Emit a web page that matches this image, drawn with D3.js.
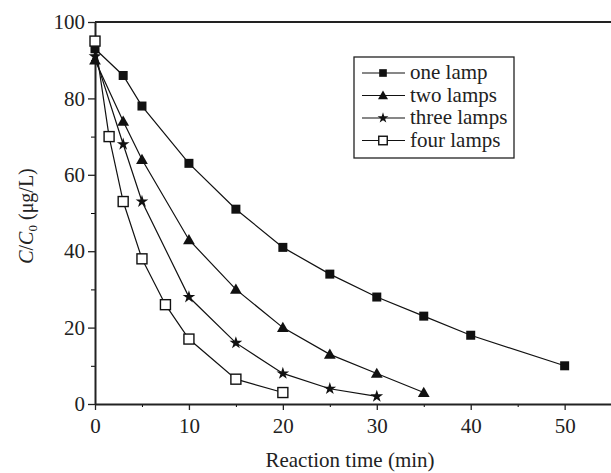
<!DOCTYPE html>
<html>
<head>
<meta charset="utf-8">
<script src="https://cdn.jsdelivr.net/npm/d3@7"></script>
<style>
  body { margin: 0; background: #fff; }
  svg text { font-family: "Liberation Serif", "Times New Roman", serif !important; fill: #222; }
</style>
</head>
<body>
<svg id="chart" width="611" height="473"></svg>
<script>
// values
const timeOne = [0, 3, 5, 10, 15, 20, 25, 30, 35, 40, 50];
const oneLamp = [93, 86, 78, 63, 51, 41, 34, 28, 23, 18, 10];
const timeTwo = [0, 3, 5, 10, 15, 20, 25, 30, 35];
const twoLamps = [90, 74, 64, 43, 30, 20, 13, 8, 3];
const timeThree = [0, 3, 5, 10, 15, 20, 25, 30];
const threeLamps = [91, 68, 53, 28, 16, 8, 4, 2];
const timeFour = [0, 1.5, 3, 5, 7.5, 10, 15, 20];
const fourLamps = [95, 70, 53, 38, 26, 17, 6.5, 3];
const seriesNames = ["one lamp", "two lamps", "three lamps", "four lamps"];
const xTicks = [0, 10, 20, 30, 40, 50];
const yTicks = [0, 20, 40, 60, 80, 100];

const series = [
  { name: seriesNames[0], sym: "sqFill", pts: timeOne.map((t, i) => [t, oneLamp[i]]) },
  { name: seriesNames[1], sym: "tri", pts: timeTwo.map((t, i) => [t, twoLamps[i]]) },
  { name: seriesNames[2], sym: "star", pts: timeThree.map((t, i) => [t, threeLamps[i]]) },
  { name: seriesNames[3], sym: "sqOpen", pts: timeFour.map((t, i) => [t, fourLamps[i]]) }
];

const margin = { top: 22, left: 95 },
    width = 526, height = 382;

const svg = d3.select("#chart")
    .append("g")
    .attr("transform", `translate(${margin.left},${margin.top})`);

const x = d3.scaleLinear().domain([0, 56]).range([0, width]);
const y = d3.scaleLinear().domain([0, 100]).range([height, 0]);

// minor ticks
svg.append("g")
    .attr("transform", `translate(0,${height})`)
    .call(d3.axisBottom(x).tickValues([5, 15, 25, 35, 45, 55]).tickSize(3).tickFormat(""))
    .call(g => g.select(".domain").remove());
svg.append("g")
    .call(d3.axisLeft(y).tickValues([10, 30, 50, 70, 90]).tickSize(4).tickFormat(""))
    .call(g => g.select(".domain").remove());

const xAxis = svg.append("g")
    .attr("transform", `translate(0,${height})`)
    .call(d3.axisBottom(x).tickValues(xTicks).tickSize(6).tickPadding(8).tickSizeOuter(0));
const yAxis = svg.append("g")
    .call(d3.axisLeft(y).tickValues(yTicks).tickSize(7).tickPadding(3).tickSizeOuter(0));

[xAxis, yAxis].forEach(g => {
  g.attr("font-family", "Liberation Serif");
  g.selectAll("text").style("font-size", "21px").attr("fill", "#222");
  g.selectAll("line").attr("stroke", "#222").attr("stroke-width", 1.3);
  g.select(".domain").attr("stroke", "#222").attr("stroke-width", 2);
});

// top frame line
svg.append("line")
    .attr("x1", 0).attr("x2", width)
    .attr("y1", 0).attr("y2", 0)
    .attr("stroke", "#222").attr("stroke-width", 2);

const line = d3.line().x(d => x(d[0])).y(d => y(d[1]));

function drawSymbol(g, sym, cx, cy, scale) {
  const s = scale || 1;
  if (sym === "sqFill") {
    g.append("rect").attr("x", cx - 4.5 * s).attr("y", cy - 4.5 * s)
      .attr("width", 9 * s).attr("height", 9 * s).attr("fill", "#111");
  } else if (sym === "sqOpen") {
    g.append("rect").attr("x", cx - 5 * s).attr("y", cy - 5 * s)
      .attr("width", 10 * s).attr("height", 10 * s)
      .attr("fill", "#fff").attr("stroke", "#111").attr("stroke-width", 1.4);
  } else if (sym === "tri") {
    g.append("path")
      .attr("d", d3.symbol().type(d3.symbolTriangle).size(60 * s * s))
      .attr("transform", `translate(${cx},${cy + 1 * s})`).attr("fill", "#111");
  } else {
    g.append("path")
      .attr("d", d3.symbol().type(d3.symbolStar).size(50 * s * s))
      .attr("transform", `translate(${cx},${cy})`).attr("fill", "#111");
  }
}

series.forEach(s => {
  svg.append("path")
      .datum(s.pts)
      .attr("fill", "none")
      .attr("stroke", "#111")
      .attr("stroke-width", 1.2)
      .attr("d", line);
});
// markers drawn after lines so open squares cover the lines
series.forEach(s => {
  const g = svg.append("g");
  s.pts.forEach(p => drawSymbol(g, s.sym, x(p[0]), y(p[1])));
});

// legend
const lg = d3.select("#chart").append("g").attr("transform", "translate(354,57)");
lg.append("rect").attr("width", 160).attr("height", 101)
    .attr("fill", "#fff").attr("stroke", "#222").attr("stroke-width", 1.3);
series.forEach((s, i) => {
  const ry = 16 + i * 22.5;
  lg.append("line").attr("x1", 8).attr("x2", 51).attr("y1", ry).attr("y2", ry)
      .attr("stroke", "#111").attr("stroke-width", 1.2);
  drawSymbol(lg, s.sym, 29, ry, 0.85);
  lg.append("text").attr("x", 56).attr("y", ry + 6)
      .style("font-size", "21px").text(s.name);
});

// axis labels
d3.select("#chart").append("text")
    .attr("x", 350).attr("y", 467)
    .attr("text-anchor", "middle")
    .style("font-size", "21px")
    .text("Reaction time (min)");

const yl = d3.select("#chart").append("text")
    .attr("transform", "translate(33,216) rotate(-90)")
    .attr("text-anchor", "middle")
    .style("font-size", "20px");
yl.append("tspan").style("font-style", "italic").text("C");
yl.append("tspan").text("/");
yl.append("tspan").style("font-style", "italic").text("C");
yl.append("tspan").attr("dy", 4).style("font-size", "13px").text("0");
yl.append("tspan").attr("dy", -4).text(" (μg/L)");
</script>
</body>
</html>
